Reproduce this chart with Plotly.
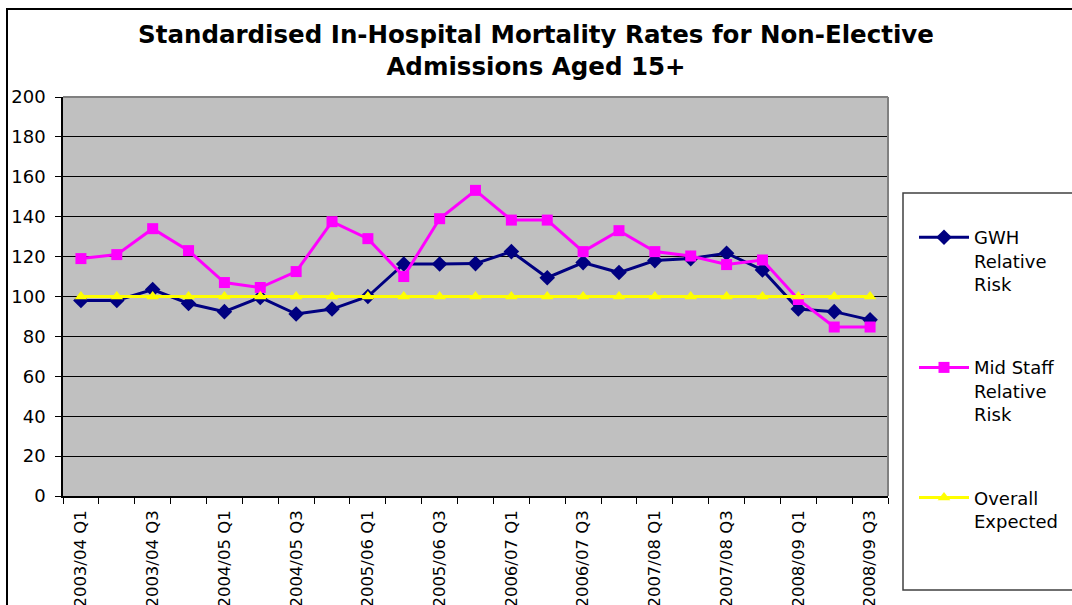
import plotly.graph_objects as go

categories = []
for yr in ["2003/04", "2004/05", "2005/06", "2006/07", "2007/08", "2008/09"]:
    for q in ["Q1", "Q2", "Q3", "Q4"]:
        categories.append(f"{yr} {q}")
categories = categories[:23]

gwh = [98, 98, 103.5, 96.5, 92.4, 99.5, 91.2, 93.7, 100, 116.3, 116.3, 116.5,
       122.5, 109.4, 117, 112, 118, 119, 121.7, 113.3, 93.7, 92.4, 88.3]
mid_staff = [119, 121, 134, 123, 107, 104.5, 112.5, 137.5, 129, 110, 139, 153.2,
             138.3, 138.3, 122.5, 133, 122.5, 120.3, 116, 118.3, 98.5, 84.7, 84.7]
expected = [100] * 23

tick_labels = categories[::2]

FONT = "DejaVu Sans, Liberation Sans, Arial, sans-serif"
x = list(range(len(categories)))

fig = go.Figure()
fig.add_trace(go.Scatter(
    x=x, y=gwh, name="GWH<br>Relative<br>Risk", mode="lines+markers",
    line=dict(color="#000080", width=3),
    marker=dict(symbol="diamond", size=12, color="#000080"),
    legendgroup="a"))
fig.add_trace(go.Scatter(
    x=x, y=mid_staff, name="Mid Staff<br>Relative<br>Risk", mode="lines+markers",
    line=dict(color="#FF00FF", width=3),
    marker=dict(symbol="square", size=11, color="#FF00FF"),
    legendgroup="b"))
fig.add_trace(go.Scatter(
    x=x, y=expected, name="Overall<br>Expected", mode="lines+markers",
    line=dict(color="#FFFF00", width=3),
    marker=dict(symbol="triangle-up", size=11, color="#FFFF00"),
    legendgroup="c"))

L, R, T, B = 63, 888, 97, 496
W, H = 1072, 605
pw, ph = R - L, B - T

def px(xp):
    return (xp - L) / pw

def py(yp):
    return (B - yp) / ph

fig.update_layout(
    width=W, height=H,
    margin=dict(l=L, r=W - R, t=T, b=H - B, autoexpand=False),
    paper_bgcolor="white",
    plot_bgcolor="#C0C0C0",
    font=dict(family=FONT, color="black", size=18),
    title=dict(
        text="<b>Standardised In-Hospital Mortality Rates for Non-Elective<br>Admissions Aged 15+</b>",
        x=0.5, xanchor="center", xref="container",
        y=1 - 43 / H, yanchor="middle", yref="container",
        font=dict(family=FONT, size=24.5, color="black")),
    xaxis=dict(
        range=[-0.5, len(categories) - 0.5],
        tickmode="array", tickvals=x[::2], ticktext=tick_labels,
        tickangle=-90, ticks="", showgrid=False, zeroline=False,
        showline=True, linecolor="black", linewidth=1.5,
        tickfont=dict(family=FONT, size=16.5),
        ticklabelstandoff=6,
        minor=dict(ticks="outside", tick0=-0.5, dtick=1, ticklen=6,
                   tickcolor="black", tickwidth=1, showgrid=False),
    ),
    yaxis=dict(
        range=[0, 200], tickmode="linear", tick0=0, dtick=20,
        ticks="outside", ticklen=6, tickcolor="black", tickwidth=1,
        showgrid=True, gridcolor="black", gridwidth=1, zeroline=False,
        showline=True, linecolor="black", linewidth=1.5,
        tickfont=dict(family=FONT, size=18),
        ticklabelstandoff=6,
    ),
    legend=dict(
        x=px(914), y=py(219), xanchor="left", yanchor="top",
        bgcolor="rgba(0,0,0,0)", borderwidth=0,
        font=dict(family=FONT, size=18),
        valign="top", traceorder="grouped", tracegroupgap=57,
        itemwidth=50,
    ),
    showlegend=True,
)

shapes = [
    dict(type="line", xref="paper", yref="paper", x0=0, x1=1, y0=1, y1=1,
         line=dict(color="#808080", width=2), layer="above"),
    dict(type="line", xref="paper", yref="paper", x0=1, x1=1, y0=0, y1=1,
         line=dict(color="#808080", width=2), layer="above"),
    dict(type="rect", xref="paper", yref="paper",
         x0=px(903), x1=px(1080), y0=py(590), y1=py(193),
         line=dict(color="#404040", width=1.5), fillcolor="rgba(0,0,0,0)", layer="below"),
    dict(type="rect", xref="paper", yref="paper",
         x0=px(7), x1=px(1200), y0=py(700), y1=py(9),
         line=dict(color="black", width=2), fillcolor="rgba(0,0,0,0)", layer="below"),
]
fig.update_layout(shapes=shapes)

fig.write_html("out.html",
               config={"displayModeBar": False},
               post_script="document.body.style.margin='0';document.body.style.padding='0';")
